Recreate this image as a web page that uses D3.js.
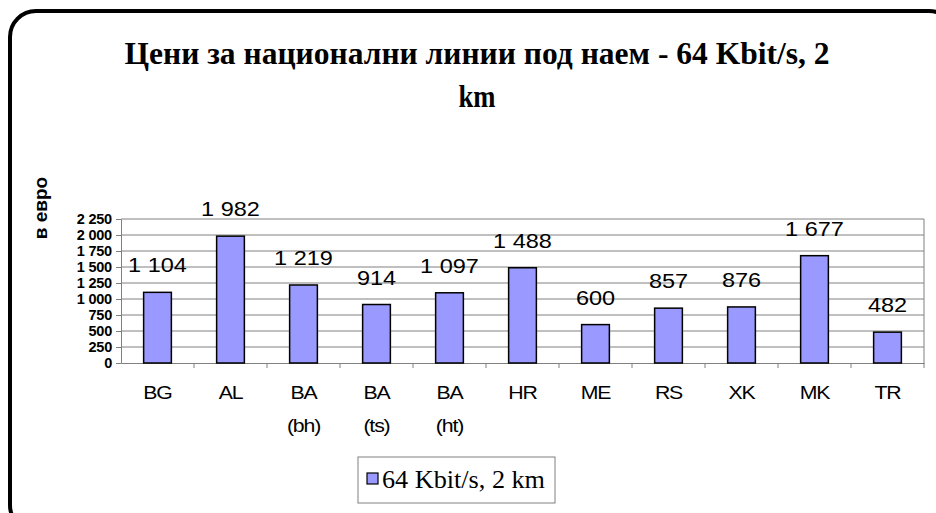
<!DOCTYPE html>
<html>
<head>
<meta charset="utf-8">
<script src="https://cdn.jsdelivr.net/npm/d3@7"></script>
<style>
  body { margin: 0; background: #fff; }
  svg { display: block; }
</style>
</head>
<body>
<div class="chart"></div>
<script>
const width = 936;
const height = 513;

// data
const categories = ['BG', 'AL', 'BA (bh)', 'BA (ts)', 'BA (ht)', 'HR', 'ME', 'RS', 'XK', 'MK', 'TR'];
const values = [1104, 1982, 1219, 914, 1097, 1488, 600, 857, 876, 1677, 482];
const yTicks = [0, 250, 500, 750, 1000, 1250, 1500, 1750, 2000, 2250];
const seriesName = '64 Kbit/s, 2 km';
const titleLines = ['Цени за национални линии под наем - 64 Kbit/s, 2', 'km'];
const yTitle = 'в евро';

const plot = { left: 121, right: 924, top: 219, bottom: 363 };
const fmt = d => d3.format(',')(d).replace(',', ' ');

const svg = d3.select('.chart').append('svg')
    .attr('width', width)
    .attr('height', height);

// rounded frame, runs off the right and bottom edge
svg.append('rect')
    .attr('x', 10).attr('y', 11)
    .attr('width', 945).attr('height', 520)
    .attr('rx', 26).attr('ry', 26)
    .attr('fill', '#fff')
    .attr('stroke', '#000')
    .attr('stroke-width', 4);

// title
svg.append('text')
    .attr('x', 477).attr('y', 64)
    .attr('text-anchor', 'middle')
    .attr('font-family', 'Liberation Serif, Times New Roman, serif')
    .attr('font-weight', 'bold')
    .attr('font-size', 32)
    .attr('textLength', 705)
    .attr('lengthAdjust', 'spacingAndGlyphs')
    .text(titleLines[0]);
svg.append('text')
    .attr('x', 477).attr('y', 107)
    .attr('text-anchor', 'middle')
    .attr('font-family', 'Liberation Serif, Times New Roman, serif')
    .attr('font-weight', 'bold')
    .attr('font-size', 32)
    .attr('textLength', 37)
    .attr('lengthAdjust', 'spacingAndGlyphs')
    .text(titleLines[1]);

const x = d3.scaleBand()
    .domain(categories)
    .range([plot.left, plot.right])
    .paddingInner(0.62)
    .paddingOuter(0.31);
const xOuter = d3.scaleBand()
    .domain(categories)
    .range([plot.left, plot.right]);

const y = d3.scaleLinear()
    .domain([0, 2250])
    .range([plot.bottom, plot.top]);

// gridlines
svg.append('g')
    .selectAll('line')
    .data(yTicks.filter(d => d > 0))
    .enter()
    .append('line')
    .attr('x1', plot.left).attr('x2', plot.right)
    .attr('y1', d => y(d)).attr('y2', d => y(d))
    .attr('stroke', '#808080')
    .attr('stroke-width', 1);

// right border of plot area
svg.append('line')
    .attr('x1', plot.right).attr('x2', plot.right)
    .attr('y1', plot.top).attr('y2', plot.bottom)
    .attr('stroke', '#808080');

// y axis
const yAxis = svg.append('g')
    .attr('transform', `translate(${plot.left},0)`)
    .call(d3.axisLeft(y).tickValues(yTicks).tickSize(5).tickPadding(4).tickFormat(fmt));
yAxis.select('.domain').attr('stroke', '#808080');
yAxis.selectAll('.tick line').attr('stroke', '#808080');
yAxis.selectAll('text')
    .attr('font-family', 'Liberation Sans, Arial, sans-serif')
    .attr('font-weight', 'bold')
    .attr('font-size', 14.5)
    .attr('letter-spacing', -0.2)
    .attr('fill', '#000');

// x axis
const xAxis = svg.append('g')
    .attr('transform', `translate(0,${plot.bottom})`)
    .call(d3.axisBottom(xOuter).tickSize(0).tickFormat(''));
xAxis.select('.domain').attr('stroke', '#808080');
// tick marks between categories
svg.append('g')
    .selectAll('line')
    .data(categories)
    .enter()
    .append('line')
    .attr('x1', d => xOuter(d) + xOuter.bandwidth())
    .attr('x2', d => xOuter(d) + xOuter.bandwidth())
    .attr('y1', plot.bottom).attr('y2', plot.bottom + 5)
    .attr('stroke', '#808080');

// category labels (two lines for BA)
const catLabels = svg.append('g')
    .selectAll('g')
    .data(categories)
    .enter()
    .append('g')
    .attr('transform', d => `translate(${xOuter(d) + xOuter.bandwidth() / 2},399) scale(1.15,1)`);
catLabels.each(function (d) {
    d3.select(this).selectAll('text')
        .data(d.split(' '))
        .enter()
        .append('text')
        .attr('x', 0)
        .attr('y', (p, i) => i * 33)
        .attr('text-anchor', 'middle')
        .attr('font-family', 'Liberation Sans, Arial, sans-serif')
        .attr('font-size', 18.5)
        .attr('letter-spacing', -1)
        .attr('fill', '#000')
        .text(p => p);
});

// bars
svg.append('g')
    .selectAll('rect')
    .data(values)
    .enter()
    .append('rect')
    .attr('x', (d, i) => x(categories[i]))
    .attr('y', d => y(d))
    .attr('width', x.bandwidth())
    .attr('height', d => plot.bottom - y(d))
    .attr('fill', '#9999ff')
    .attr('stroke', '#000')
    .attr('stroke-width', 1.5);

// value labels
svg.append('g')
    .selectAll('g')
    .data(values)
    .enter()
    .append('g')
    .attr('transform', (d, i) => `translate(${x(categories[i]) + x.bandwidth() / 2},${y(d) - 20}) scale(1.12,1)`)
    .append('text')
    .attr('text-anchor', 'middle')
    .attr('font-family', 'Liberation Sans, Arial, sans-serif')
    .attr('font-size', 21)
    .attr('fill', '#000')
    .text(fmt);

// y axis title
svg.append('text')
    .attr('transform', 'translate(47,208) rotate(-90)')
    .attr('text-anchor', 'middle')
    .attr('font-family', 'Liberation Sans, Arial, sans-serif')
    .attr('font-weight', 'bold')
    .attr('font-size', 19)
    .text(yTitle);

// legend
const legend = svg.append('g');
legend.append('rect')
    .attr('x', 358).attr('y', 457)
    .attr('width', 197).attr('height', 46)
    .attr('fill', '#fff')
    .attr('stroke', '#808080');
legend.append('rect')
    .attr('x', 367).attr('y', 473)
    .attr('width', 11).attr('height', 11)
    .attr('fill', '#9999ff')
    .attr('stroke', '#000')
    .attr('stroke-width', 1.2);
legend.append('text')
    .attr('x', 382).attr('y', 488)
    .attr('font-family', 'Liberation Serif, Times New Roman, serif')
    .attr('font-size', 26)
    .attr('textLength', 163)
    .attr('lengthAdjust', 'spacingAndGlyphs')
    .text(seriesName);
</script>
</body>
</html>
